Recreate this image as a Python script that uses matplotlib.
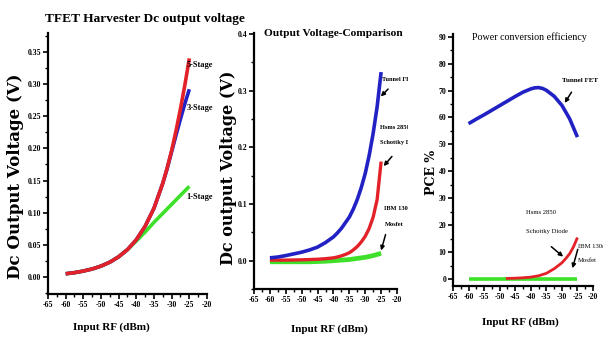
import matplotlib
matplotlib.use("Agg")
import matplotlib.pyplot as plt
from matplotlib.ticker import MultipleLocator
from matplotlib.patches import Rectangle

plt.rcParams['font.family'] = ['Liberation Serif', 'DejaVu Serif']
plt.rcParams['font.weight'] = 'bold'

# panel 1: TFET harvester, number of stages
x1 = [-60, -57.5, -55, -52.5, -50, -47.5, -45, -42.5, -40, -37.5, -35, -32.5, -31.25, -30, -28.75, -27.5, -26.25, -25]
stage5 = [0.005, 0.0067, 0.0092, 0.0124, 0.0169, 0.023, 0.0314, 0.0426, 0.058, 0.079, 0.107, 0.146, 0.170, 0.197, 0.228, 0.262, 0.299, 0.340]
stage3 = [0.005, 0.0067, 0.0092, 0.0124, 0.0169, 0.023, 0.0314, 0.0426, 0.058, 0.079, 0.107, 0.146, 0.169, 0.195, 0.221, 0.246, 0.270, 0.292]
x1g = [-60, -57.5, -55, -52.5, -50, -47.5, -45, -42.5, -40, -37.5, -35, -32.5, -30, -27.5, -25]
stage1 = [0.005, 0.0067, 0.0092, 0.0124, 0.0169, 0.023, 0.0314, 0.0426, 0.056, 0.070, 0.085, 0.099, 0.113, 0.127, 0.141]

# panel 2: output voltage comparison (V)
x2 = [-60, -57.5, -55, -52.5, -50, -47.5, -45, -42.5, -40, -38.75, -37.5, -36.25, -35, -33.75, -32.5,
      -31.25, -30, -28.75, -27.5, -26.25, -25]
tfet_v = [0.005, 0.0065, 0.009, 0.012, 0.015, 0.019, 0.024, 0.032, 0.042, 0.049, 0.057, 0.067, 0.077, 0.091, 0.108,
          0.129, 0.154, 0.186, 0.225, 0.272, 0.333]
schottky_v = [0.001, 0.001, 0.001, 0.0012, 0.0015, 0.002, 0.0025, 0.0035, 0.005, 0.0065, 0.0085, 0.011, 0.014, 0.019, 0.025,
              0.033, 0.043, 0.057, 0.077, 0.108, 0.175]
mosfet_v = [-0.002, -0.002, -0.002, -0.002, -0.002, -0.002, -0.0015, -0.001, 0.000, 0.0005, 0.001, 0.0015, 0.002, 0.003, 0.004,
            0.005, 0.006, 0.0075, 0.009, 0.011, 0.013]

# panel 3: power conversion efficiency (%)
x3 = [-60, -57.5, -55, -52.5, -50, -47.5, -45, -42.5, -40, -38.75, -37.5, -36.25, -35, -32.5, -30, -27.5, -25]
tfet_pce = [57.7, 59.4, 61.0, 62.7, 64.4, 66.1, 67.8, 69.4, 70.6, 71.0, 71.1, 70.8, 70.1, 67.9, 64.5, 59.5, 52.7]
x3r = [-48, -45, -42.5, -40, -37.5, -35, -32.5, -30, -28.75, -27.5, -26.25, -25]
schottky_pce = [0.2, 0.3, 0.45, 0.7, 1.2, 2.1, 3.8, 6.0, 7.6, 9.4, 12.0, 15.4]
x3g = [-60, -25]
mosfet_pce = [0.0, 0.0]

xticks = [-65, -60, -55, -50, -45, -40, -35, -30, -25, -20]

RED = '#e22228'
BLUE = '#2222c4'
GREEN = '#3ee02a'
LW = 2.6
TICKFONT = 5.6

fig = plt.figure(figsize=(6.03, 3.45), dpi=100)


def style(ax, ylim, yticks, yminor, yfmt):
    ax.set_xlim(-65, -20)
    ax.set_ylim(*ylim)
    ax.set_xticks(xticks)
    ax.set_xticklabels([str(t) for t in xticks])
    ax.xaxis.set_minor_locator(MultipleLocator(2.5))
    ax.set_yticks(yticks)
    ax.set_yticklabels([yfmt.format(t) for t in yticks])
    ax.yaxis.set_minor_locator(MultipleLocator(yminor))
    for s in ['top', 'right']:
        ax.spines[s].set_visible(False)
    for s in ['left', 'bottom']:
        ax.spines[s].set_linewidth(1.6)
    ax.tick_params(which='major', length=3.5, width=1.2, direction='out', labelsize=TICKFONT, pad=1.5)
    ax.tick_params(which='minor', length=2, width=1.0, direction='out')
    for lab in ax.get_xticklabels() + ax.get_yticklabels():
        lab.set_fontweight('bold')


def line(ax, x, y, color, lw):
    ax.plot(x, y, color=color, lw=lw, solid_capstyle='butt', solid_joinstyle='round')


def ylab(ax, s, x, y, size):
    ax.set_ylabel(s, fontsize=size, fontweight='bold', family=['DejaVu Serif'])
    ax.yaxis.set_label_coords(x, y)


def xlab(ax, x, y):
    ax.set_xlabel('Input RF (dBm)', fontsize=8, fontweight='bold')
    ax.xaxis.set_label_coords(x, y)


def arrow(ax, tail, head):
    ax.annotate('', xy=head, xytext=tail,
                arrowprops=dict(arrowstyle='-|>', color='black', lw=1.1, mutation_scale=6,
                                shrinkA=0, shrinkB=0))


# panel 1
ax1 = fig.add_axes([48 / 603, 51 / 345, 159 / 603, 261 / 345])
line(ax1, x1g, stage1, GREEN, LW)
line(ax1, x1, stage3, BLUE, LW)
line(ax1, x1, stage5, RED, LW)
style(ax1, (-0.0265, 0.3795), [0, 0.05, 0.10, 0.15, 0.20, 0.25, 0.30, 0.35], 0.025, '{:.2f}')
ylab(ax1, 'Dc Output Voltage (V)', -0.15, 0.45, 12)
xlab(ax1, 0.40, -0.11)
fig.text(45 / 603, 1 - 19 / 345, 'TFET Harvester Dc output voltage', fontsize=9.6,
         fontweight='bold', va='center', ha='left')
ax1.text(-25.8, 0.330, '5-Stage', fontsize=6, va='center')
ax1.text(-25.8, 0.263, '3-Stage', fontsize=6, va='center')
ax1.text(-25.8, 0.124, '1-Stage', fontsize=6, va='center')

# panel 2
ax2 = fig.add_axes([254 / 603, 56 / 345, 143 / 603, 256 / 345])
line(ax2, x2, mosfet_v, GREEN, LW + 0.8)
line(ax2, x2, schottky_v, RED, LW - 0.2)
line(ax2, x2, tfet_v, BLUE, LW)
style(ax2, (-0.05, 0.402), [0, 0.1, 0.2, 0.3, 0.4], 0.05, '{:.1f}')
ylab(ax2, 'Dc output Voltage (V)', -0.118, 0.475, 11.5)
xlab(ax2, 0.524, -0.14)
fig.text(333 / 603, 1 - 33 / 345, 'Output Voltage-Comparison', fontsize=8.2,
         fontweight='bold', va='center', ha='center')
clip2 = Rectangle((0, 0), 408 / 603, 1, transform=fig.transFigure)
for x, y, s in [(-24.6, 0.320, 'Tunnel FET'), (-25.2, 0.236, 'Hsms 2850'),
                (-25.2, 0.208, 'Schottky Diode'), (-24.0, 0.092, 'IBM 130nm'),
                (-23.8, 0.063, 'Mosfet')]:
    t = ax2.text(x, y, s, fontsize=4.6, va='center', clip_on=True)
    t.set_clip_path(clip2)
arrow(ax2, (-22.8, 0.303), (-25.1, 0.290))
arrow(ax2, (-21.6, 0.184), (-24.2, 0.167))
arrow(ax2, (-23.6, 0.046), (-25.0, 0.018))

# panel 3
ax3 = fig.add_axes([453 / 603, 59 / 345, 140 / 603, 252 / 345])
line(ax3, x3g, mosfet_pce, GREEN, LW)
line(ax3, x3r, schottky_pce, RED, LW - 0.6)
line(ax3, x3, tfet_pce, BLUE, LW)
style(ax3, (-2.6, 91), [0, 10, 20, 30, 40, 50, 60, 70, 80, 90], 5, '{:.0f}')
ylab(ax3, 'PCE %', -0.11, 0.45, 9)
xlab(ax3, 0.482, -0.123)
fig.text(529 / 603, 1 - 37 / 345, 'Power conversion efficiency', fontsize=7.2,
         fontweight='normal', va='center', ha='center')
ax3.text(-30.1, 73.7, 'Tunnel FET', fontsize=5, va='center')
ax3.text(-41.6, 24.6, 'Hsms 2850', fontsize=4.8, fontweight='normal', va='center')
ax3.text(-41.6, 17.8, 'Schottky Diode', fontsize=4.8, fontweight='normal', va='center')
ax3.text(-24.9, 12.0, 'IBM 130nm', fontsize=4.8, fontweight='normal', va='center')
ax3.text(-24.9, 7.0, 'Mosfet', fontsize=4.8, fontweight='normal', va='center')
arrow(ax3, (-26.9, 69.4), (-29.1, 65.4))
arrow(ax3, (-33.4, 12.0), (-29.6, 8.3))
arrow(ax3, (-24.9, 11.0), (-26.6, 4.0))

fig.savefig('out.png', dpi=100)
